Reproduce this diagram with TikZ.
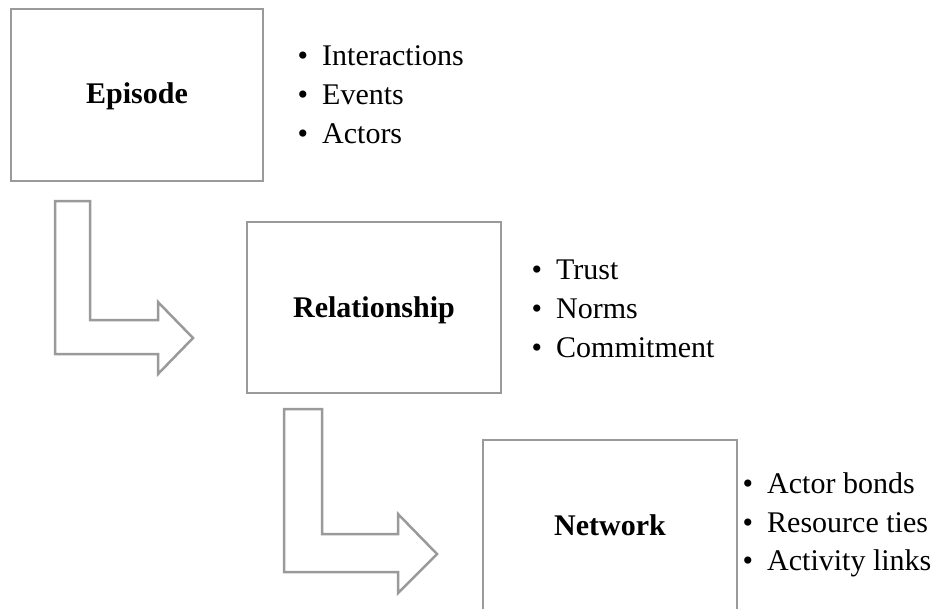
\documentclass[tikz,border=0pt]{standalone}
\usepackage{fontspec}
\setmainfont{Liberation Serif}
\definecolor{framegray}{HTML}{9A9A9A}
\newcommand{\bulletitem}[1]{\llap{\textbullet\hspace{14pt}}#1}
\begin{document}
\begin{tikzpicture}[x=1pt,y=-1pt,
  stagebox/.style={draw=framegray, line width=2.7pt, fill=white},
  stagelabel/.style={font=\fontsize{30}{36}\selectfont\bfseries, anchor=base, inner sep=0pt},
  listitem/.style={font=\fontsize{30}{36}\selectfont, anchor=base west, inner sep=0pt},
  blockarrow/.style={draw=framegray, line width=2.5pt, fill=white, line join=miter}]
\useasboundingbox (0,0) rectangle (941,608);
\clip (0,0) rectangle (941,608);

% stage boxes
\draw[stagebox] (11,9) rectangle (263,181);
\draw[stagebox] (247,222) rectangle (501,393);
\draw[stagebox] (483,440) rectangle (737,625);
\node[stagelabel] (epLabel) at (137,103) {Episode};
\node[stagelabel] (relLabel) at (374,317) {Relationship};
\node[stagelabel] (netLabel) at (610,535) {Network};

% bent block arrows between stages
\draw[blockarrow] (55,201) -- (90,201) -- (90,320) -- (158,320) -- (158,302)
  -- (193,338) -- (158,374) -- (158,354) -- (55,354) -- cycle;
\draw[blockarrow] (284,409) -- (322,409) -- (322,534) -- (398,534) -- (398,514)
  -- (437,554) -- (398,593) -- (398,572) -- (284,572) -- cycle;

% bullet lists
\node[listitem] (ep1) at (322,65)  {\bulletitem{Interactions}};
\node[listitem] (ep2) at (322,104) {\bulletitem{Events}};
\node[listitem] (ep3) at (322,143) {\bulletitem{Actors}};

\node[listitem] (rel1) at (556,279) {\bulletitem{Trust}};
\node[listitem] (rel2) at (556,318) {\bulletitem{Norms}};
\node[listitem] (rel3) at (556,357) {\bulletitem{Commitment}};

\node[listitem] (net1) at (767,493) {\bulletitem{Actor bonds}};
\node[listitem] (net2) at (767,532) {\bulletitem{Resource ties}};
\node[listitem] (net3) at (767,570) {\bulletitem{Activity links}};
\end{tikzpicture}
\end{document}
